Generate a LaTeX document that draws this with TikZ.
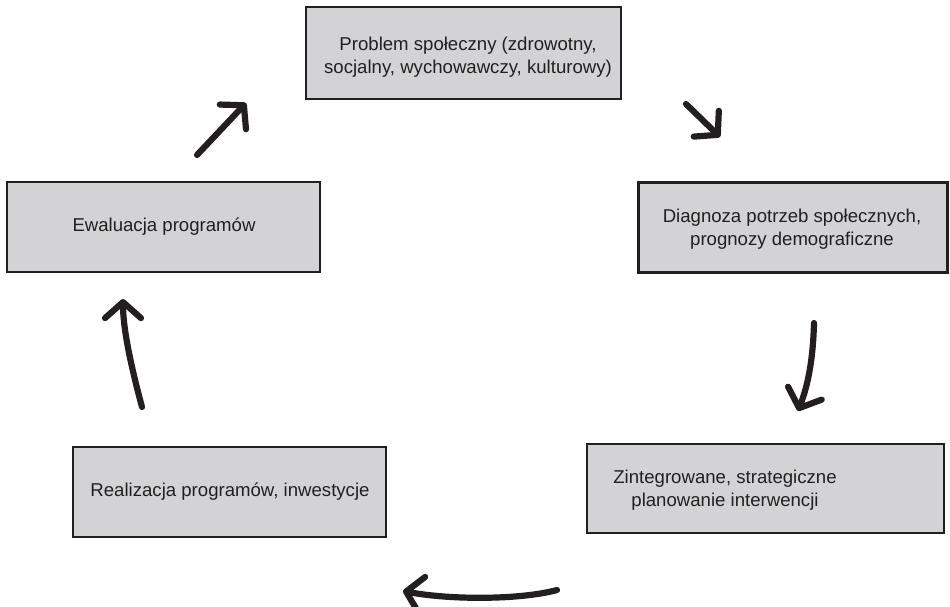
\documentclass[tikz,border=0pt]{standalone}
\usepackage{fontspec}
\setmainfont{Liberation Sans}
\usetikzlibrary{arrows.meta}
\definecolor{boxfill}{HTML}{D3D3D5}
\definecolor{ink}{HTML}{231F20}
\begin{document}
\begin{tikzpicture}[x=1pt,y=-1pt,
  box/.style={draw=ink,fill=boxfill,line width=2.6pt,rectangle,inner sep=0pt},
  lbl/.style={text=ink,align=center,inner sep=0pt,font=\fontsize{18.6}{22.5}\selectfont},
  flow/.style={draw=ink,line width=6.2pt,line cap=round,line join=round,
    -{Straight Barb[length=16pt,width=36pt,line cap=round,line join=round]}}]
\useasboundingbox (0,0) rectangle (950,607);

% the five stages of the cycle
\node[box,minimum width=315pt,minimum height=92pt] (problem) at (463.5,53) {};
\node[box,minimum width=309pt,minimum height=90pt] (diag) at (793,227.5) {};
\node[box,minimum width=357pt,minimum height=89pt] (plan) at (765.5,488.5) {};
\node[box,minimum width=313pt,minimum height=90pt] (real) at (229.5,492) {};
\node[box,minimum width=313pt,minimum height=90pt] (eval) at (163.5,227) {};

\node[lbl] (tproblem) at (468,57) {Problem społeczny (zdrowotny,\\socjalny, wychowawczy, kulturowy)};
\node[lbl] (tdiag) at (792,229) {Diagnoza potrzeb społecznych,\\prognozy demograficzne};
\node[lbl] (tplan) at (725,490) {Zintegrowane, strategiczne\\planowanie interwencji};
\node[lbl] (treal) at (230,492) {Realizacja programów, inwestycje};
\node[lbl] (teval) at (164,227) {Ewaluacja programów};

% hand-drawn arrows between the stages
\coordinate (a1s) at (197,155); \coordinate (a1e) at (246,103);
\coordinate (a2s) at (686,104); \coordinate (a2e) at (720,137);
\coordinate (a3s) at (814,323); \coordinate (a3e) at (798,411);
\coordinate (a4s) at (557,590); \coordinate (a4e) at (403,591);
\coordinate (a5s) at (142,407); \coordinate (a5e) at (123,299);

\draw[flow] (a1s) -- (a1e);
\draw[flow] (a2s) -- (a2e);
\draw[flow] (a3s) .. controls (813,360) and (808,385) .. (a3e);
\draw[flow] (a4s) .. controls (520,600) and (450,600) .. (a4e);
\draw[flow] (a5s) .. controls (132,370) and (123,330) .. (a5e);
\end{tikzpicture}
\end{document}
